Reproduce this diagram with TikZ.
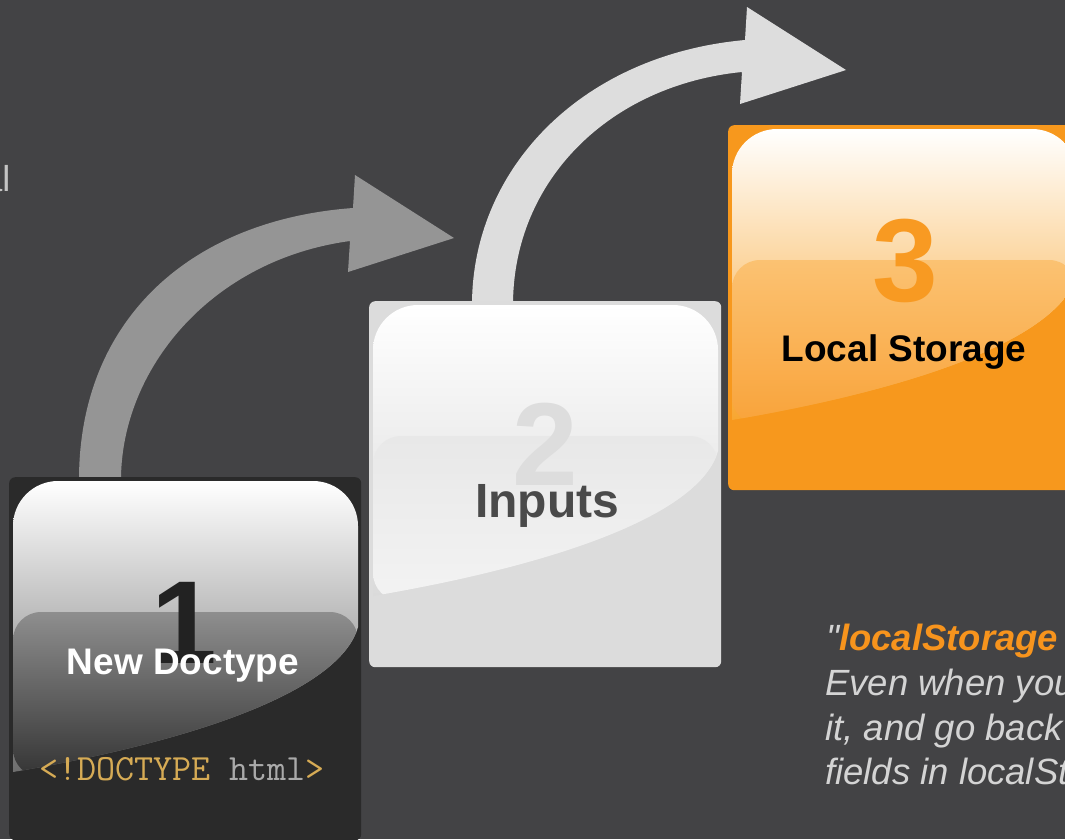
\documentclass[tikz,border=0pt]{standalone}
\usepackage{fontspec}
\setmainfont{Liberation Sans}
\definecolor{bg}{HTML}{434345}
\definecolor{arrowA}{HTML}{959595}
\definecolor{arrowB}{HTML}{DDDDDD}
\definecolor{boxA}{HTML}{2A2A2A}
\definecolor{boxB}{HTML}{DCDCDC}
\definecolor{boxC}{HTML}{F7981D}
\definecolor{digA}{HTML}{222222}
\definecolor{digB}{HTML}{DDDDDD}
\definecolor{digC}{HTML}{F89A22}
\definecolor{inputsCol}{HTML}{4A4A4A}
\definecolor{gold}{HTML}{D6AB55}
\definecolor{codegray}{HTML}{AAAAAA}
\definecolor{orangeText}{HTML}{F7941D}
\definecolor{txtgray}{HTML}{D4D4D4}
\definecolor{fraggray}{HTML}{C4C4C4}
% gloss colours
\definecolor{gAtop}{HTML}{FFFFFF}\definecolor{gAbot}{HTML}{6E6E6E}
\definecolor{bAtop}{HTML}{8E8E8E}\definecolor{bAbot}{HTML}{343434}
\definecolor{gBtop}{HTML}{FFFFFF}\definecolor{gBbot}{HTML}{DADADA}
\definecolor{bBtop}{HTML}{E8E8E8}\definecolor{bBbot}{HTML}{F3F3F3}
\definecolor{gCtop}{HTML}{FFFFFF}\definecolor{gCbot}{HTML}{F8A630}
\definecolor{bCtop}{HTML}{FBC272}\definecolor{bCbot}{HTML}{F9A33A}
\def\glosspath{(4,295) -- (4,49) arc[start angle=180,end angle=270,radius=45] -- (304,4) arc[start angle=270,end angle=360,radius=45] -- (349,150) .. controls (331,213) and (191,263) .. (4,295) -- cycle}
\newcommand{\glossbox}[5]{% shift, gloss top, gloss bottom, band top, band bottom
  \begin{scope}[shift={#1}]
    \begin{scope}
      \clip \glosspath;
      \shade[top color=#2, bottom color=#3] \glosspath;
      \shade[top color=#4, bottom color=#5, rounded corners=28pt] (4,135) rectangle (349,300);
    \end{scope}
  \end{scope}}
\tikzset{
  stepcard/.style={rectangle, rounded corners=6pt, inner sep=0pt, minimum width=352pt, minimum height=365pt, anchor=north west, draw=none},
  digit/.style={font=\fontsize{118}{118}\selectfont\bfseries, inner sep=0pt, anchor=base},
  cardlabel/.style={font=\fontsize{37}{37}\selectfont\bfseries, inner sep=0pt, anchor=base},
  quoteline/.style={font=\fontsize{36.5}{44}\selectfont\itshape, text=txtgray, inner sep=0pt, anchor=base west},
}
\begin{document}
\begin{tikzpicture}[x=1pt,y=-1pt]
\useasboundingbox (0,0) rectangle (1065,839);
\fill[bg] (0,0) rectangle (1065,839);

% fragment of cut-off text at left edge
\node[anchor=base east, inner sep=0pt, font=\fontsize{36}{36}\selectfont, text=fraggray] (frag) at (10.6,191) {al};

% arrows
\fill[arrowA] (79,480) .. controls (79,320) and (190,220) .. (353,208) -- (355,175) -- (454,238) -- (348,272) -- (350,241) .. controls (210,260) and (121,370) .. (121,480) -- cycle;
\fill[arrowB] (472,305) .. controls (472,170) and (580,55) .. (745,40) -- (747,7) -- (846,70) -- (740,104) -- (742,72) .. controls (610,85) and (513,180) .. (513,305) -- cycle;

% cards
\node[stepcard, fill=boxA, minimum height=363pt] (b1) at (9,477) {};
\node[stepcard, fill=boxB, minimum height=366pt] (b2) at (369,301) {};
\node[stepcard, fill=boxC] (b3) at (728,125) {};

\glossbox{(9,477)}{gAtop}{gAbot}{bAtop}{bAbot}
\glossbox{(369,301)}{gBtop}{gBbot}{bBtop}{bBbot}
\glossbox{(728,125)}{gCtop}{gCbot}{bCtop}{bCbot}

% digits
\node[digit, text=digA] (n1) at (184,663) {1};
\node[digit, text=digB] (n2) at (545,485) {2};
\node[digit, text=digC] (n3) at (905,301) {3};

% labels
\node[cardlabel, text=white] (t1) at (183,674) {New Doctype};
\node[cardlabel, text=inputsCol, font=\fontsize{48}{48}\selectfont\bfseries] (t2) at (547,517) {Inputs};
\node[cardlabel, text=black] (t3) at (904,361) {Local Storage};

\node[inner sep=0pt, anchor=base, font=\fontsize{37}{37}\selectfont\ttfamily] (code) at (182,780) {\textcolor{gold}{<!DOCTYPE} \textcolor{codegray}{html}\textcolor{gold}{>}};

% quote text (cut off at right edge)
\node[quoteline] (q1) at (826,650) {\textquotedbl\textcolor{orangeText}{\bfseries localStorage}};
\node[quoteline] (q2) at (825,695) {Even when you};
\node[quoteline] (q3) at (825,740) {it, and go back};
\node[quoteline] (q4) at (825,784) {fields in localSt};
\end{tikzpicture}
\end{document}
